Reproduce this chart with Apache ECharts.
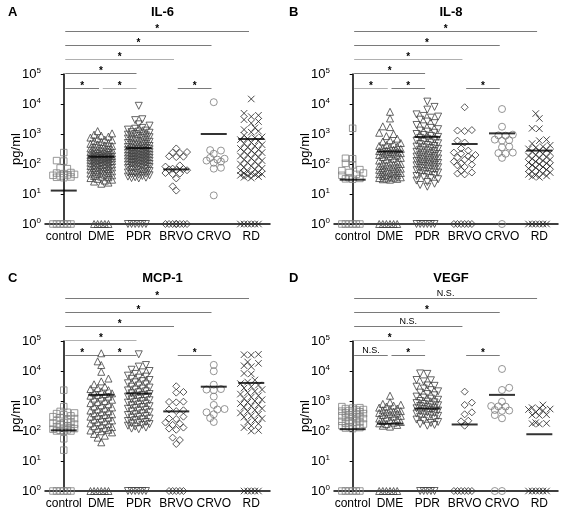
<!DOCTYPE html>
<html><head><meta charset="utf-8">
<script src="https://cdn.jsdelivr.net/npm/echarts@6/dist/echarts.min.js"></script>
<style>html,body{margin:0;padding:0;background:#fff}#c{width:563px;height:513px}</style>
</head><body><div id="c"></div><script>
const categories = ['control', 'DME', 'PDR', 'BRVO', 'CRVO', 'RD'];
const panelTitles = ['IL-6', 'IL-8', 'MCP-1', 'VEGF'];
const panelLetters = ['A', 'B', 'C', 'D'];

// ---- IL-6 (pg/ml); value 1 = below detection (drawn on the axis)
const il6Control = [240, 130, 125, 74, 70, 52, 50, 48, 45, 43, 42, 40, 37, 36, 35, 1, 1, 1, 1, 1, 1];
const il6Dme = [1250, 1050, 950, 880, 820, 760, 700, 650, 620, 580, 540, 500, 470, 450, 420, 400, 380, 360, 345, 330, 315, 300, 290, 280, 270, 260, 250, 240, 232, 225, 218, 210, 205, 200, 195, 190, 185, 180, 176, 172, 168, 164, 160, 155, 150, 146, 142, 138, 134, 130, 126, 122, 118, 114, 110, 106, 102, 98, 95, 92, 89, 86, 83, 80, 77, 74, 71, 68, 65, 62, 60, 57, 55, 52, 50, 48, 46, 44, 42, 40, 38, 36, 34, 32, 30, 28, 26, 24, 22, 1, 1, 1, 1, 1];
const il6Pdr = [8700, 3100, 2900, 2100, 1900, 1600, 1500, 1400, 1300, 1200, 1150, 1100, 1050, 1000, 950, 900, 860, 820, 780, 740, 700, 670, 640, 610, 580, 550, 520, 500, 480, 460, 440, 420, 400, 385, 370, 355, 340, 330, 320, 310, 300, 290, 280, 270, 262, 255, 248, 240, 232, 225, 218, 212, 205, 198, 192, 186, 180, 175, 170, 165, 160, 155, 150, 145, 140, 136, 132, 128, 124, 120, 116, 112, 108, 104, 100, 97, 94, 91, 88, 85, 82, 79, 76, 73, 70, 67, 64, 61, 58, 55, 52, 50, 48, 46, 44, 42, 40, 38, 36, 35, 34, 33, 1, 1, 1, 1, 1, 1];
const il6Brvo = [330, 250, 240, 235, 180, 175, 170, 90, 82, 70, 68, 66, 64, 62, 50, 48, 46, 33, 18, 13, 1, 1, 1, 1, 1, 1, 1, 1];
const il6Crvo = [11500, 290, 280, 220, 160, 150, 140, 130, 120, 110, 75, 70, 9];
const il6Rd = [14700, 4900, 4200, 3800, 3000, 2600, 2300, 1600, 1400, 1250, 1150, 900, 800, 750, 700, 650, 600, 520, 480, 440, 400, 360, 330, 300, 280, 260, 240, 220, 200, 185, 170, 155, 140, 130, 120, 110, 100, 92, 85, 78, 72, 66, 60, 56, 52, 50, 48, 46, 44, 42, 40, 38, 36, 34, 1, 1, 1, 1, 1, 1];
const il6Means = [13, 175, 340, 66, 1000, 680];

// ---- IL-8
const il8Control = [1550, 155, 150, 105, 93, 65, 60, 52, 50, 45, 42, 35, 33, 32, 31, 1, 1, 1, 1, 1, 1];
const il8Dme = [5500, 3300, 1800, 1700, 1100, 1000, 850, 700, 620, 560, 500, 460, 430, 400, 380, 360, 340, 320, 300, 285, 270, 260, 250, 240, 230, 220, 210, 200, 190, 180, 170, 160, 150, 140, 130, 120, 112, 105, 100, 95, 90, 86, 82, 78, 74, 70, 67, 64, 61, 58, 55, 52, 50, 48, 46, 44, 42, 40, 38, 36, 35, 34, 33, 32, 31, 30, 1, 1, 1, 1, 1, 1];
const il8Pdr = [12000, 8000, 6500, 4500, 4000, 3800, 3500, 3000, 2600, 2300, 2000, 1800, 1600, 1450, 1300, 1200, 1100, 1000, 930, 860, 800, 740, 690, 640, 600, 560, 520, 490, 460, 430, 400, 380, 360, 340, 320, 300, 285, 270, 255, 240, 228, 216, 205, 195, 185, 176, 168, 160, 152, 145, 138, 131, 125, 119, 113, 108, 103, 98, 94, 90, 86, 82, 78, 74, 70, 66, 62, 58, 55, 52, 49, 46, 43, 40, 37, 34, 31, 28, 25, 22, 20, 17.5, 1, 1, 1, 1, 1, 1];
const il8Brvo = [7800, 1350, 1300, 1250, 600, 520, 330, 280, 240, 220, 200, 180, 165, 150, 140, 120, 105, 95, 90, 80, 60, 52, 48, 45, 1, 1, 1, 1, 1, 1];
const il8Crvo = [6800, 1750, 950, 900, 880, 650, 620, 600, 380, 360, 240, 230, 220, 160, 1];
const il8Rd = [4800, 3300, 1550, 1500, 650, 600, 480, 420, 380, 350, 320, 300, 280, 260, 240, 220, 200, 185, 170, 160, 150, 140, 130, 120, 112, 105, 98, 92, 86, 80, 75, 70, 65, 60, 56, 52, 48, 45, 42, 40, 38, 36, 1, 1, 1, 1, 1, 1];
const il8Means = [30, 260, 800, 465, 1050, 280];

// ---- MCP-1
const mcpControl = [2300, 650, 450, 420, 400, 380, 350, 320, 300, 280, 260, 240, 220, 200, 190, 180, 170, 160, 150, 140, 130, 125, 120, 115, 110, 105, 100, 100, 98, 55, 23, 1, 1, 1, 1, 1, 1];
const mcpDme = [39000, 21000, 15800, 9400, 5600, 4500, 3600, 3000, 2700, 2500, 2300, 2100, 1900, 1800, 1700, 1600, 1500, 1400, 1300, 1200, 1100, 1000, 920, 850, 780, 720, 660, 610, 560, 520, 480, 450, 420, 390, 360, 340, 320, 300, 280, 260, 240, 225, 210, 195, 180, 168, 156, 145, 135, 125, 118, 110, 104, 98, 90, 80, 70, 60, 42, 1, 1, 1, 1, 1, 1];
const mcpPdr = [36000, 15800, 14000, 11000, 10000, 9000, 8000, 7000, 6500, 6000, 5500, 5000, 4600, 4200, 3900, 3600, 3300, 3000, 2800, 2600, 2400, 2250, 2100, 1950, 1800, 1700, 1600, 1500, 1400, 1300, 1220, 1140, 1060, 1000, 940, 880, 820, 770, 720, 670, 630, 590, 550, 510, 480, 450, 420, 390, 360, 340, 320, 300, 280, 260, 245, 230, 215, 200, 190, 180, 170, 160, 150, 140, 130, 120, 115, 1, 1, 1, 1, 1, 1];
const mcpBrvo = [3100, 2000, 1900, 950, 930, 900, 520, 490, 460, 300, 260, 250, 190, 175, 160, 130, 120, 110, 60, 50, 37, 1, 1, 1, 1, 1];
const mcpCrvo = [16000, 9800, 3500, 2500, 2400, 2300, 1400, 740, 540, 520, 420, 360, 270, 200];
const mcpRd = [36000, 35000, 34000, 20000, 18000, 15000, 14000, 8300, 8000, 5000, 4300, 3800, 3400, 3000, 2700, 2400, 2100, 1900, 1700, 1500, 1350, 1200, 1100, 1000, 900, 820, 750, 680, 620, 560, 500, 450, 400, 360, 320, 290, 260, 230, 200, 175, 150, 130, 105, 100, 1, 1, 1, 1, 1];
const mcpMeans = [105, 1600, 1780, 450, 3000, 4000];

// ---- VEGF
const vegfControl = [650, 600, 580, 560, 520, 500, 480, 460, 440, 420, 400, 380, 360, 340, 320, 300, 290, 280, 260, 240, 220, 210, 200, 190, 180, 170, 160, 150, 140, 130, 125, 120, 1, 1, 1, 1, 1, 1];
const vegfDme = [1500, 900, 800, 750, 700, 650, 600, 560, 520, 490, 460, 440, 420, 400, 380, 360, 340, 320, 300, 280, 260, 245, 230, 215, 200, 190, 180, 170, 160, 150, 140, 1, 1, 1, 1, 1, 1];
const vegfPdr = [8300, 8000, 5000, 4900, 4500, 3300, 3200, 3000, 2600, 2300, 2100, 1900, 1700, 1550, 1400, 1300, 1200, 1100, 1000, 950, 900, 850, 800, 760, 720, 680, 640, 600, 570, 540, 510, 480, 450, 420, 400, 380, 360, 340, 320, 300, 280, 260, 240, 220, 200, 185, 170, 160, 150, 1, 1, 1, 1, 1];
const vegfBrvo = [2050, 880, 740, 420, 360, 220, 210, 150, 1, 1, 1, 1, 1, 1];
const vegfCrvo = [11700, 2760, 2330, 950, 680, 660, 650, 500, 480, 470, 340, 265, 1, 1];
const vegfRd = [740, 600, 560, 540, 520, 480, 420, 350, 340, 330, 190, 180, 175, 170, 1, 1, 1, 1, 1, 1];
const vegfMeans = [115, 175, 560, 165, 1600, 78];

// significance brackets: [from, to, label, level]
const il6Brackets = [[0, 1, '*', 1], [1, 2, '*', 1], [3, 4, '*', 1], [0, 2, '*', 2], [0, 3, '*', 3], [0, 4, '*', 4], [0, 5, '*', 5]];
const il8Brackets = [[0, 1, '*', 1], [1, 2, '*', 1], [3, 4, '*', 1], [0, 2, '*', 2], [0, 3, '*', 3], [0, 4, '*', 4], [0, 5, '*', 5]];
const mcpBrackets = [[0, 1, '*', 1], [1, 2, '*', 1], [3, 4, '*', 1], [0, 2, '*', 2], [0, 3, '*', 3], [0, 4, '*', 4], [0, 5, '*', 5]];
const vegfBrackets = [[0, 1, 'N.S.', 1], [1, 2, '*', 1], [3, 4, '*', 1], [0, 2, '*', 2], [0, 3, 'N.S.', 3], [0, 4, '*', 4], [0, 5, 'N.S.', 5]];
// bracket heights (log10 pg/ml) per level
const bracketLevels = [4.55, 5.03, 5.5, 5.97, 6.43];

const panels = [
  { groups: [il6Control, il6Dme, il6Pdr, il6Brvo, il6Crvo, il6Rd], means: il6Means, brackets: il6Brackets, light: [1, 4] },
  { groups: [il8Control, il8Dme, il8Pdr, il8Brvo, il8Crvo, il8Rd], means: il8Means, brackets: il8Brackets, light: [0, 4] },
  { groups: [mcpControl, mcpDme, mcpPdr, mcpBrvo, mcpCrvo, mcpRd], means: mcpMeans, brackets: mcpBrackets, light: [3] },
  { groups: [vegfControl, vegfDme, vegfPdr, vegfBrvo, vegfCrvo, vegfRd], means: vegfMeans, brackets: vegfBrackets, light: [3] }
];

const FONT = 'Liberation Sans, Arial, Helvetica, sans-serif';
const grids = [
  { left: 45, top: 74, width: 225, height: 150 },
  { left: 334, top: 74, width: 224, height: 150 },
  { left: 45, top: 341, width: 225, height: 150 },
  { left: 334, top: 341, width: 224, height: 150 }
];
const symbols = ['rect', 'triangle', 'triangle', 'diamond', 'circle', 'path://M0,0L10,10M0,10L10,0'];
const symSizes = [6.5, 7, 7, 7, 7, 6.5];
const symRot = [0, 0, 180, 0, 0, 0];
const symColors = ['#808080', '#404040', '#404040', '#303030', '#7a7a7a', '#1e1e1e'];

const chart = echarts.init(document.getElementById('c'), null, { renderer: 'canvas' });

const xAxes = [], yAxes = [], titles = [];
grids.forEach((g, i) => {
  xAxes.push({
    type: 'category', gridIndex: i, data: categories, boundaryGap: true,
    axisLine: { onZero: false, lineStyle: { color: '#000', width: 1.5 } },
    axisTick: { alignWithLabel: true, length: 3, lineStyle: { color: '#000' } },
    axisLabel: { color: '#000', fontSize: 12, margin: 7, interval: 0, fontFamily: FONT },
    splitLine: { show: false }
  });
  xAxes.push({ type: 'value', gridIndex: i, min: -0.5, max: 5.5, show: false, splitLine: { show: false } });
  yAxes.push({
    type: 'log', gridIndex: i, logBase: 10, min: 1, max: 100000,
    axisLine: { show: true, lineStyle: { color: '#000', width: 1.5 } },
    axisTick: { show: true, length: 3, lineStyle: { color: '#000' } },
    splitLine: { show: false },
    axisLabel: {
      margin: 4,
      formatter: v => '{b|10}{s|' + Math.round(Math.log10(v)) + '}',
      rich: {
        b: { fontSize: 13, color: '#000', fontFamily: FONT },
        s: { fontSize: 8, color: '#000', fontFamily: FONT, verticalAlign: 'top', padding: [0, 0, 6, 0] }
      }
    },
    name: 'pg/ml', nameLocation: 'middle', nameGap: 22, nameMoveOverlap: false,
    nameTextStyle: { fontSize: 13, color: '#000', fontFamily: FONT }
  });
  titles.push({ text: panelTitles[i], left: g.left + g.width / 2, top: i < 2 ? 1 : 267, textAlign: 'center',
    textStyle: { fontSize: 13, fontWeight: 'bold', color: '#000', fontFamily: FONT } });
  titles.push({ text: panelLetters[i], left: i % 2 ? 284 : 3, top: i < 2 ? 1 : 267,
    textStyle: { fontSize: 13, fontWeight: 'bold', color: '#000', fontFamily: FONT } });
});

chart.setOption({
  animation: false,
  backgroundColor: '#fff',
  textStyle: { fontFamily: FONT },
  title: titles,
  grid: grids.map(g => Object.assign({ containLabel: false }, g)),
  xAxis: xAxes, yAxis: yAxes, series: []
});

// beeswarm-style horizontal spreading of points (layout only)
function swarm(values, cat, g) {
  const xf = { xAxisIndex: 2 * g + 1 }, yf = { yAxisIndex: g };
  const pxPerUnit = chart.convertToPixel(xf, 1) - chart.convertToPixel(xf, 0);
  const sorted = values.slice().sort((a, b) => a - b);
  const placed = [], out = [];
  const R = 5, step = 3.6, maxK = 3;
  sorted.forEach((v, n) => {
    const py = chart.convertToPixel(yf, v);
    const sgn = n % 2 ? -1 : 1;
    const cands = [0];
    for (let k = 1; k <= maxK; k++) { cands.push(sgn * k * step, -sgn * k * step); }
    let best = null, bestD = -1;
    for (const cx of cands) {
      let md = Infinity;
      for (const p of placed) {
        const d = Math.hypot(p[0] - cx, p[1] - py);
        if (d < md) md = d;
      }
      if (md >= R) { best = cx; bestD = md; break; }
      if (md > bestD + 0.01) { bestD = md; best = cx; }
    }
    placed.push([best, py]);
    out.push([cat + best / pxPerUnit, v]);
  });
  return out;
}

const series = [];
const graphics = [];
panels.forEach((p, g) => {
  p.groups.forEach((vals, i) => {
    series.push({
      type: 'scatter', xAxisIndex: 2 * g + 1, yAxisIndex: g, silent: true, z: 2,
      data: swarm(vals, i, g),
      symbol: symbols[i], symbolSize: symSizes[i], symbolRotate: symRot[i],
      itemStyle: { color: 'rgba(0,0,0,0)', borderColor: symColors[i], borderWidth: 1 }
    });
  });
  series.push({
    type: 'scatter', xAxisIndex: 2 * g + 1, yAxisIndex: g, silent: true, z: 4,
    data: p.means.map((m, i) => [i, m]),
    symbol: 'rect', symbolSize: [26, 2], itemStyle: { color: '#000' }
  });
  p.brackets.forEach((b, k) => {
    const xf = { xAxisIndex: 2 * g + 1 }, yf = { yAxisIndex: g };
    const x1 = chart.convertToPixel(xf, b[0] + 0.04);
    const x2 = chart.convertToPixel(xf, b[1] - 0.06);
    const y = Math.round(chart.convertToPixel(yf, Math.pow(10, bracketLevels[b[3] - 1]))) + 0.5;
    const col = p.light.indexOf(k) >= 0 ? '#b0b0b0' : '#7a7a7a';
    graphics.push({ type: 'line', silent: true, shape: { x1: x1, y1: y, x2: x2, y2: y }, style: { stroke: col, lineWidth: 1 } });
    const isStar = b[2] === '*';
    graphics.push({
      type: 'text', silent: true, x: (x1 + x2) / 2, y: isStar ? y + 3 : y - 0.5,
      style: { text: b[2], fill: '#000', font: (isStar ? 'bold 10px ' : '9px ') + FONT,
        textAlign: 'center', textVerticalAlign: 'bottom' }
    });
  });
});

chart.setOption({ series: series, graphic: graphics });
</script></body></html>
